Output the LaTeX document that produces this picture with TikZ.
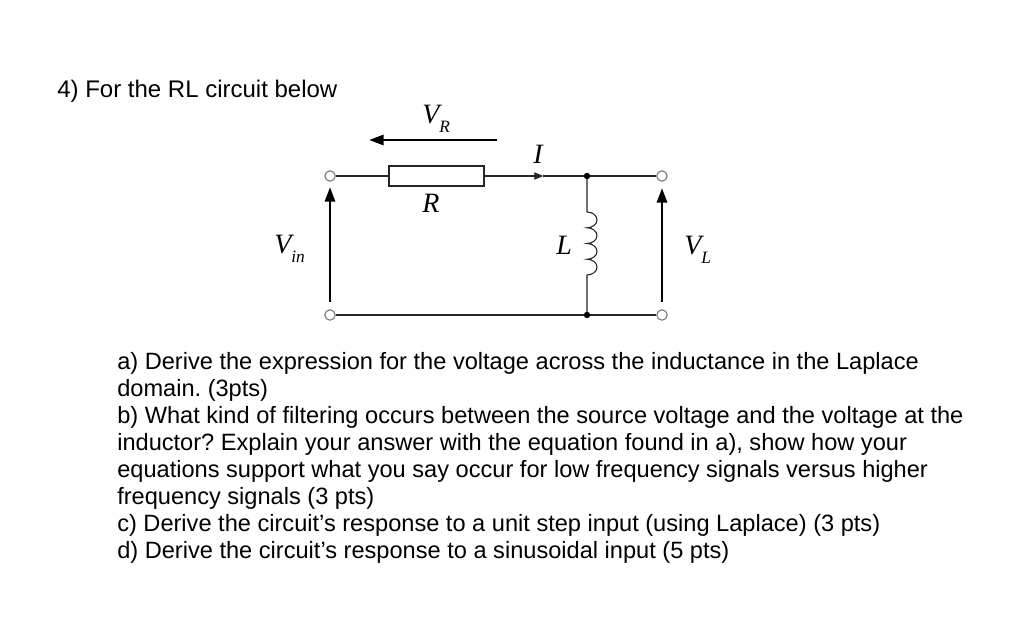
\documentclass[tikz,border=0pt]{standalone}
\usepackage{fontspec}
\setmainfont{Liberation Sans}
\newfontfamily\eqfont{Liberation Serif}
\usetikzlibrary{arrows.meta}
\frenchspacing
\newcommand\vsub[2]{#1\raisebox{-6.75pt}{\fontsize{13}{13}\selectfont #2}}
\tikzset{
  wire/.style={line width=0.8pt, black!85},
  term/.style={circle, draw=black!55, fill=white, line width=0.8pt, minimum size=7.8pt, inner sep=0pt},
  junc/.style={circle, fill=black, minimum size=4.8pt, inner sep=0pt},
  volt/.style={line width=2.2pt, -{Triangle[length=11pt,width=7.5pt]}},
  lbl/.style={anchor=base west, inner sep=0pt, font=\eqfont\itshape\fontsize{21}{21}\selectfont},
  txt/.style={anchor=base west, inner sep=0pt, font=\fontsize{17.7}{20}\selectfont},
}
\begin{document}
\begin{tikzpicture}[x=0.75pt, y=-0.75pt]
   \fill[white] (0,0) rectangle (1024,631);
   \useasboundingbox (0,0) rectangle (1024,631);
   % question text
   \node[txt, font=\fontsize{18}{20}\selectfont] (title) at (57,98) {4) For the RL circuit below};
   \node[txt] (qa1) at (117,369) {a) Derive the expression for the voltage across the inductance in the Laplace};
   \node[txt] (qa2) at (117,396) {domain. (3pts)};
   \node[txt] (qb1) at (117,423) {b) What kind of filtering occurs between the source voltage and the voltage at the};
   \node[txt] (qb2) at (117,450) {inductor? Explain your answer with the equation found in a), show how your};
   \node[txt] (qb3) at (117,477) {equations support what you say occur for low frequency signals versus higher};
   \node[txt] (qb4) at (117,504) {frequency signals (3 pts)};
   \node[txt] (qc) at (117,531) {c) Derive the circuit’s response to a unit step input (using Laplace) (3 pts)};
   \node[txt] (qd) at (117,558) {d) Derive the circuit’s response to a sinusoidal input (5 pts)};
   % circuit
   \node[term] (t1) at (330,176) {};
   \node[term] (t2) at (330,315) {};
   \node[term] (t3) at (662,176) {};
   \node[term] (t4) at (662,315) {};
   \node[draw, wire, minimum width=71.25pt, minimum height=15pt, inner sep=0pt] (res) at (436.5,176) {};
   \coordinate (ia) at (543,176);
   \coordinate (j1) at (587,176);
   \coordinate (j2) at (587,315);
   \coordinate (ltop) at (587,212);
   \draw[wire] (t1) -- (res.west);
   \draw[wire, -{Triangle[length=6.5pt,width=5.5pt]}] (res.east) -- (ia);
   \draw[wire] (ia) -- (j1) -- (t3);
   \draw[wire] (t2) -- (j2) -- (t4);
   \draw[wire] (j1) -- (ltop) arc(-90:90:10 and 7.875) arc(-90:90:10 and 7.875)
      arc(-90:90:10 and 7.875) arc(-90:90:10 and 7.875) -- (j2);
   \node[junc] at (j1) {};
   \node[junc] at (j2) {};
   % voltage arrows
   \coordinate (vra) at (497,140);
   \coordinate (vrb) at (369,140);
   \coordinate (vina) at (330,302);
   \coordinate (vinb) at (330,187);
   \coordinate (vla) at (662,302);
   \coordinate (vlb) at (662,188);
   \draw[volt] (vra) -- (vrb);
   \draw[volt] (vina) -- (vinb);
   \draw[volt] (vla) -- (vlb);
   % labels
   \node[lbl] (vr) at (422,124) {\vsub{V}{R}};
   \node[lbl] (ilbl) at (533,164) {I};
   \node[lbl] (rlbl) at (422,213) {R};
   \node[lbl] (vin) at (274,253) {\vsub{V}{in}};
   \node[lbl] (llbl) at (556,254) {L};
   \node[lbl] (vl) at (684,254) {\vsub{V}{L}};
\end{tikzpicture}
\end{document}
